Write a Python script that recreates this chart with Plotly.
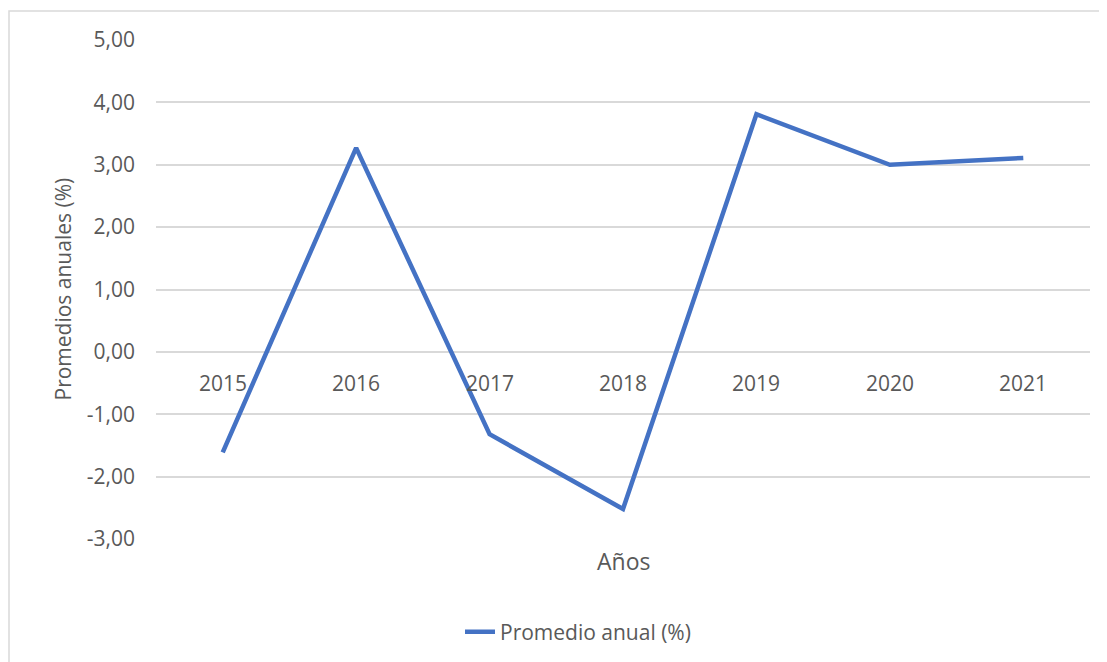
import plotly.graph_objects as go

years = ["2015", "2016", "2017", "2018", "2019", "2020", "2021"]
values = [-1.61, 3.27, -1.32, -2.52, 3.81, 3.00, 3.11]
y_ticks = [-3, -2, -1, 0, 1, 2, 3, 4, 5]
y_ticktext = [f"{v:.2f}".replace(".", ",") for v in y_ticks]
series_name = "Promedio anual (%)"

FONT = "Open Sans"
GREY = "#595959"

# page body offset compensation (≈8px) so plot area lands where the reference has it
OFF = 8
L, T = 156 - OFF, 40 - OFF
PW, PH = 934, 499
W, H = 1107, 662

fig = go.Figure()
fig.add_trace(go.Scatter(
    x=years, y=values, mode="lines", name=series_name,
    line=dict(color="#4472C4", width=4.5),
))

annotations = []
for i, yr in enumerate(years):
    annotations.append(dict(
        x=i, y=0, xref="x", yref="y", text=yr, showarrow=False,
        yshift=-31, font=dict(family=FONT, size=21, color=GREY),
    ))
annotations.append(dict(
    x=0.5, y=(539 - 561) / PH, xref="paper", yref="paper", text="Años", showarrow=False,
    xanchor="center", yanchor="middle", font=dict(family=FONT, size=23, color=GREY),
))
annotations.append(dict(
    x=(62 - 156) / PW, y=0.5, xref="paper", yref="paper", text="Promedios anuales (%)",
    showarrow=False, textangle=-90, xanchor="center", yanchor="middle",
    font=dict(family=FONT, size=21, color=GREY),
))

fig.update_layout(
    width=W, height=H,
    margin=dict(l=L, r=W - L - PW, t=T, b=H - T - PH),
    paper_bgcolor="white", plot_bgcolor="white",
    showlegend=True,
    legend=dict(orientation="h", x=(578 - 156) / PW, y=(539 - 632) / PH,
                xanchor="center", yanchor="middle",
                font=dict(family=FONT, size=21, color=GREY)),
    annotations=annotations,
    shapes=[dict(type="rect", xref="paper", yref="paper",
                 x0=(9 - 156) / PW, x1=(1130 - 156) / PW,
                 y0=(539 - 700) / PH, y1=(539 - 11) / PH,
                 line=dict(color="#D9D9D9", width=1.5), fillcolor="rgba(0,0,0,0)",
                 layer="below")],
    xaxis=dict(type="category", range=[-0.5, 6.5], showticklabels=False,
               showgrid=False, zeroline=False, showline=False, ticks=""),
    yaxis=dict(range=[-3, 5], tickvals=y_ticks, ticktext=y_ticktext,
               showgrid=True, gridcolor="#D9D9D9", gridwidth=1.5,
               zeroline=False, showline=False, ticks="",
               ticklabelstandoff=20,
               tickfont=dict(family=FONT, size=21, color=GREY)),
)

fig.write_html("out.html")
